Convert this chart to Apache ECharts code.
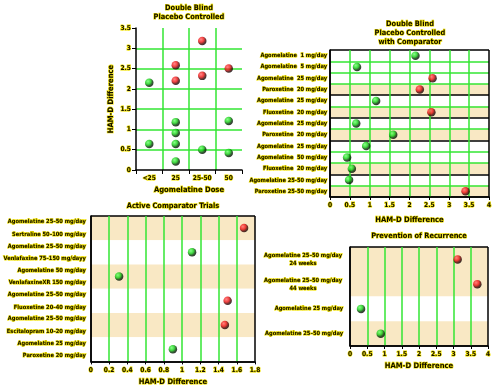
<!DOCTYPE html>
<html><head><meta charset="utf-8">
<script src="https://cdn.jsdelivr.net/npm/echarts@6/dist/echarts.min.js"></script>
<style>html,body{margin:0;padding:0;background:#fff}#c{width:500px;height:388px}</style>
</head><body><div id="c"></div>
<script>
// ---------- data ----------
const doseCategories = ['<25', '25', '25-50', '50'];
const placeboSignificant = [['25', 2.58], ['25', 2.2], ['25-50', 3.18], ['25-50', 2.32], ['50', 2.5]];
const placeboNonSignificant = [['<25', 2.15], ['<25', 0.64], ['25', 1.18], ['25', 0.91], ['25', 0.64], ['25', 0.21], ['25-50', 0.5], ['50', 1.21], ['50', 0.42]];

const comparatorLabels = ['Agomelatine  1 mg/day', 'Agomelatine  5 mg/day', 'Agomelatine  25 mg/day', 'Paroxetine  20 mg/day',
  'Agomelatine  25 mg/day', 'Fluoxetine  20 mg/day', 'Agomelatine  25 mg/day', 'Paroxetine  20 mg/day',
  'Agomelatine  25 mg/day', 'Agomelatine  50 mg/day', 'Fluoxetine  20 mg/day', 'Agomelatine 25-50 mg/day', 'Paroxetine 25-50 mg/day'];
const comparatorValues = [2.15, 0.68, 2.58, 2.26, 1.16, 2.55, 0.66, 1.59, 0.91, 0.43, 0.55, 0.48, 3.41];
const comparatorSignificant = [0, 0, 1, 1, 0, 1, 0, 0, 0, 0, 0, 0, 1];
const comparatorBands = [0, 0, 0, 1, 0, 1, 0, 1, 0, 0, 1, 0, 1];
const comparatorSeparators = [1, 0, 0, 0, 1, 0, 1, 0, 1, 0, 0, 1, 0, 1];

const activeLabels = ['Agomelatine 25–50 mg/day\nSertraline 50–100 mg/day', 'Agomelatine 25–50 mg/day\nVenlafaxine 75–150 mg/dayy',
  'Agomelatine 50 mg/day\nVenlafaxineXR 150 mg/day', 'Agomelatine 25–50 mg/day\nFluoxetine 20–40 mg/day',
  'Agomelatine 25–50 mg/day\nEscitalopram 10–20 mg/day', 'Agomelatine 25 mg/day\nParoxetine 20 mg/day'];
const activeValues = [1.68, 1.11, 0.31, 1.5, 1.47, 0.9];
const activeSignificant = [1, 0, 0, 1, 1, 0];

const recurrenceLabels = ['Agomelatine 25–50 mg/day\n24 weeks', 'Agomelatine 25–50 mg/day\n44 weeks', 'Agomelatine 25 mg/day', 'Agomelatine 25–50 mg/day'];
const recurrenceValues = [3.12, 3.69, 0.32, 0.89];
const recurrenceSignificant = [1, 1, 0, 0];
const recurrenceBands = [1, 1, 0, 1];

const titles = ['Double Blind\nPlacebo Controlled', 'Double Blind\nPlacebo Controlled\nwith Comparator', 'Active Comparator Trials', 'Prevention of Recurrence'];

// ---------- styles ----------
const FONT = "'Liberation Sans Narrow', 'Arial Narrow', 'DejaVu Sans Condensed', sans-serif";
const G = '#33e633', BEIGE = '#f9e8c4', CLEAR = 'rgba(0,0,0,0)';
const INK = '#100c00', HALO = '#f0e000';
const LBL = 5.7, TICK = 6.6, NAME = 7.6, TITLE = 7.4;
const txt = (size) => ({ color: INK, fontFamily: FONT, fontWeight: 'bold', fontSize: size, textBorderColor: HALO, textBorderWidth: 1.2 });
const ball = (red) => ({
  type: 'radial', x: 0.35, y: 0.32, r: 0.72,
  colorStops: red
    ? [{ offset: 0, color: '#ff6a6a' }, { offset: 0.45, color: '#ee1111' }, { offset: 0.72, color: '#5a0000' }, { offset: 1, color: '#000' }]
    : [{ offset: 0, color: '#6aff6a' }, { offset: 0.45, color: '#11cc11' }, { offset: 0.72, color: '#004000' }, { offset: 1, color: '#000' }]
});
const blackLine = { show: true, lineStyle: { color: '#000', width: 1.5 } };
const ticksOut = { show: true, length: 3, lineStyle: { color: '#000', width: 1 } };
const rep = (n, c) => Array.from({ length: n }, () => c);
const titleText = (t, x, y, lh) => ({ type: 'text', x: x, y: y, style: { text: t, align: 'center', verticalAlign: 'top', font: 'bold ' + TITLE + 'px ' + FONT, lineHeight: lh, fill: INK, stroke: HALO, lineWidth: 1.2 } });

const items = (vals, sig) => vals.map((v, i) => ({ value: [v, i], itemStyle: { color: ball(sig[i]) } }));
const DOT = 8.5;

const chart = echarts.init(document.getElementById('c'), null, { renderer: 'canvas' });
chart.setOption({
  animation: false,
  backgroundColor: '#fff',
  graphic: [
    titleText(titles[0], 189, 4, 9),
    titleText(titles[1], 410, 20, 9),
    titleText(titles[2], 173, 202, 9),
    titleText(titles[3], 419, 232, 9)
  ],
  grid: [
    { left: 136, top: 28, width: 106, height: 142 },
    { left: 330, top: 50, width: 159, height: 147 },
    { left: 89, top: 216, width: 166, height: 150 },
    { left: 350, top: 247, width: 138, height: 99 }
  ],
  xAxis: [
    { gridIndex: 0, type: 'category', data: doseCategories, z: 1,
      axisLine: blackLine, axisTick: { show: true, length: 4, interval: 0, lineStyle: { color: '#000' } },
      axisLabel: Object.assign(txt(TICK), { interval: 0, margin: 5 }),
      splitLine: { show: true, interval: 0, lineStyle: { color: [CLEAR, G, G, G, CLEAR], width: 1.5 } },
      name: 'Agomelatine Dose', nameLocation: 'middle', nameGap: 16, nameTextStyle: txt(NAME) },
    { gridIndex: 1, type: 'value', min: 0, max: 4, interval: 0.5, z: 1,
      axisLine: blackLine, axisTick: ticksOut, axisLabel: Object.assign(txt(TICK), { margin: 5 }),
      splitLine: { show: true, lineStyle: { color: ['#000'].concat(rep(7, G), ['#000']), width: 1.5 } },
      name: 'HAM-D Difference', nameLocation: 'middle', nameGap: 19, nameTextStyle: txt(NAME) },
    { gridIndex: 2, type: 'value', min: 0, max: 1.8, interval: 0.2, z: 1,
      axisLine: blackLine, axisTick: ticksOut, axisLabel: Object.assign(txt(TICK), { margin: 5 }),
      splitLine: { show: true, lineStyle: { color: ['#000'].concat(rep(8, G), ['#000']), width: 1.5 } },
      name: 'HAM-D Difference', nameLocation: 'middle', nameGap: 17, nameTextStyle: txt(NAME) },
    { gridIndex: 3, type: 'value', min: 0, max: 4, interval: 0.5, z: 1,
      axisLine: blackLine, axisTick: ticksOut, axisLabel: Object.assign(txt(TICK), { margin: 5 }),
      splitLine: { show: true, lineStyle: { color: ['#000'].concat(rep(7, G), ['#000']), width: 1.5 } },
      name: 'HAM-D Difference', nameLocation: 'middle', nameGap: 16, nameTextStyle: txt(NAME) }
  ],
  yAxis: [
    { gridIndex: 0, type: 'value', min: 0, max: 3.5, interval: 0.5, z: 0,
      axisLine: blackLine, axisTick: { show: true, length: 4, lineStyle: { color: '#000' } },
      axisLabel: Object.assign(txt(TICK), { margin: 5 }),
      splitLine: { show: true, lineStyle: { color: [CLEAR].concat(rep(6, G), [CLEAR]), width: 1.5 } },
      name: 'HAM-D Difference', nameLocation: 'middle', nameGap: 17, nameTextStyle: txt(NAME) },
    { gridIndex: 1, type: 'category', inverse: true, data: comparatorLabels, z: 0,
      axisLine: blackLine, axisTick: { show: false },
      axisLabel: Object.assign(txt(LBL), { interval: 0, margin: 3 }),
      splitLine: { show: true, interval: 0, lineStyle: { color: comparatorSeparators.map(s => s ? '#000' : G), width: 1.5 } },
      splitArea: { show: true, interval: 0, areaStyle: { color: comparatorBands.map(b => b ? BEIGE : '#fff') } } },
    { gridIndex: 2, type: 'category', inverse: true, data: activeLabels, z: 0,
      axisLine: blackLine, axisTick: { show: false },
      axisLabel: Object.assign(txt(LBL), { interval: 0, margin: 5, lineHeight: 12.5, align: 'right' }),
      splitLine: { show: true, interval: 0, lineStyle: { color: ['#000'].concat(rep(5, CLEAR), ['#000']), width: 1.5 } },
      splitArea: { show: true, interval: 0, areaStyle: { color: [BEIGE, '#fff'] } } },
    { gridIndex: 3, type: 'category', inverse: true, data: recurrenceLabels, z: 0,
      axisLine: blackLine, axisTick: { show: false },
      axisLabel: Object.assign(txt(LBL), {
        interval: 0, margin: 7, lineHeight: 8,
        formatter: v => v.indexOf('\n') >= 0 ? v.split('\n').map(s => '{c|' + s + '}').join('\n') : v,
        rich: { c: Object.assign(txt(LBL), { width: 80, align: 'center', lineHeight: 8 }) }
      }),
      splitLine: { show: true, interval: 0, lineStyle: { color: ['#000', CLEAR, CLEAR, CLEAR, '#000'], width: 1.5 } },
      splitArea: { show: true, interval: 0, areaStyle: { color: recurrenceBands.map(b => b ? BEIGE : '#fff') } } }
  ],
  series: [
    { type: 'scatter', xAxisIndex: 0, yAxisIndex: 0, symbolSize: DOT, data: placeboSignificant, itemStyle: { color: ball(1) } },
    { type: 'scatter', xAxisIndex: 0, yAxisIndex: 0, symbolSize: DOT, data: placeboNonSignificant, itemStyle: { color: ball(0) } },
    { type: 'scatter', xAxisIndex: 1, yAxisIndex: 1, symbolSize: DOT, data: items(comparatorValues, comparatorSignificant) },
    { type: 'scatter', xAxisIndex: 2, yAxisIndex: 2, symbolSize: DOT, data: items(activeValues, activeSignificant) },
    { type: 'scatter', xAxisIndex: 3, yAxisIndex: 3, symbolSize: DOT, data: items(recurrenceValues, recurrenceSignificant) }
  ]
});
</script></body></html>
